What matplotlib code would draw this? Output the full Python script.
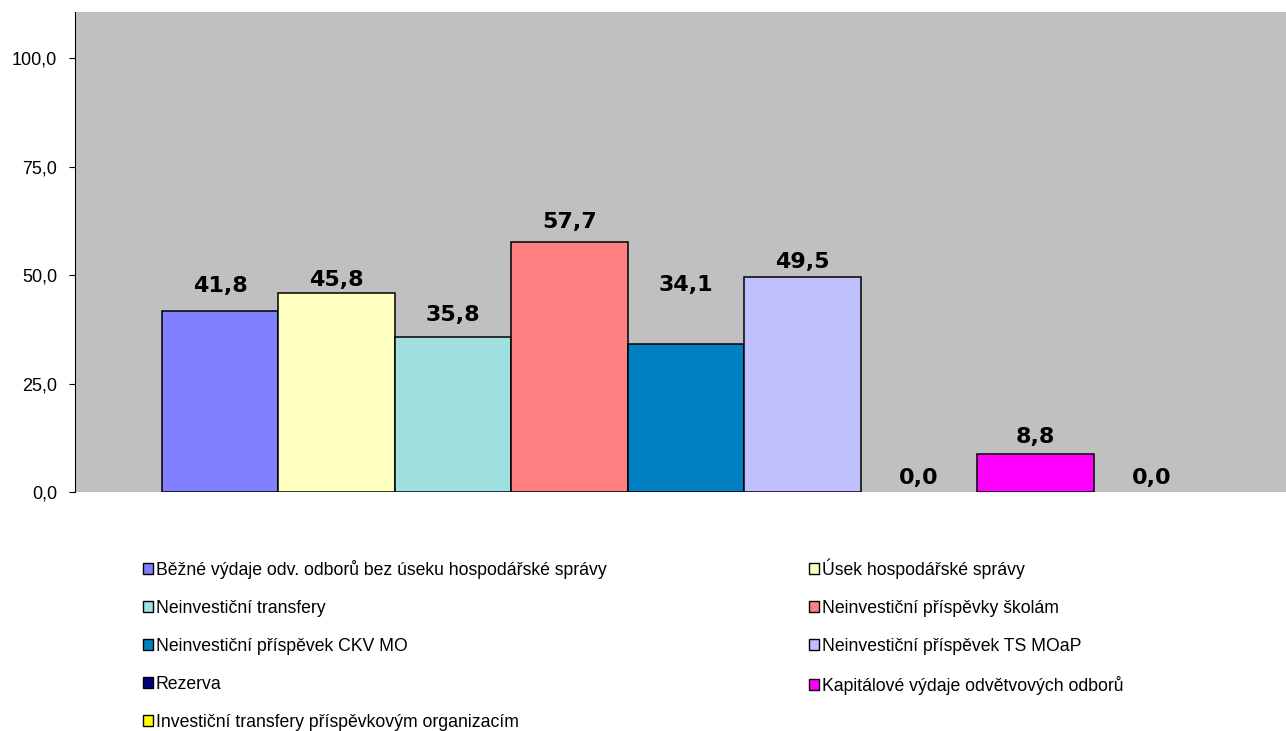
import numpy as np
import matplotlib.pyplot as plt
from matplotlib.patches import Patch

# data
kategorie = ["Běžné výdaje odv. odborů bez úseku hospodářské správy",
             "Úsek hospodářské správy",
             "Neinvestiční transfery",
             "Neinvestiční příspěvky školám",
             "Neinvestiční příspěvek CKV MO",
             "Neinvestiční příspěvek TS MOaP",
             "Rezerva",
             "Kapitálové výdaje odvětvových odborů",
             "Investiční transfery příspěvkovým organizacím"]
hodnoty = [41.8, 45.8, 35.8, 57.7, 34.1, 49.5, 0.0, 8.8, 0.0]
y_ticks = [0, 25, 50, 75, 100]

barvy = ["#8080FF", "#FFFFC0", "#A0E0E0", "#FF8080", "#0080C0",
         "#C0C0FF", "#000080", "#FF00FF", "#FFFF00"]
# posun popisku nad sloupcem (v pixelech)
posun = [25, 13, 22, 20, 59, 15, 14, 17, 14]

def fmt(v):
    return f"{v:.1f}".replace(".", ",")

def main():
    fig = plt.figure(figsize=(12.86, 7.31), dpi=100)
    ax = fig.add_axes([75/1286, 1-492/731, 1-75/1286, (492-12)/731])
    ax.set_facecolor("#C0C0C0")

    x = np.arange(len(hodnoty))
    hrany = ["black" if v > 0 else "none" for v in hodnoty]
    ax.bar(x, hodnoty, width=1.0, color=barvy, edgecolor=hrany, linewidth=1.1)
    for xi, v, p in zip(x, hodnoty, posun):
        ax.annotate(fmt(v), (xi, v), xytext=(0, p*0.72), textcoords="offset points",
                    ha="center", va="center", fontsize=16, fontweight="bold",
                    family="DejaVu Sans")

    ax.set_xlim(-1.247, 9.153)
    ax.set_ylim(0, 110.6)
    ax.set_yticks(y_ticks)
    ax.set_yticklabels([fmt(t) for t in y_ticks], family="Liberation Sans", fontsize=13)
    ax.set_xticks([])
    for s in ["top", "right", "bottom"]:
        ax.spines[s].set_visible(False)
    ax.spines["left"].set_linewidth(0.8)
    ax.tick_params(axis="y", length=4, width=0.8, pad=9)

    handles = [Patch(facecolor=c, edgecolor="black", linewidth=1.0) for c in barvy]
    order = [0, 2, 4, 6, 8, 1, 3, 5, 7]
    fig.legend([handles[i] for i in order], [kategorie[i] for i in order],
               ncol=2, loc="upper left", bbox_to_anchor=(136/1286, 1-551/731),
               frameon=False, prop={"family": "Liberation Sans", "size": 12.7},
               handlelength=0.55, handleheight=0.55, handletextpad=0.17,
               labelspacing=1.19, columnspacing=11.5, borderaxespad=0)

    plt.savefig("out.png", dpi=100)

if __name__ == "__main__":
    main()
